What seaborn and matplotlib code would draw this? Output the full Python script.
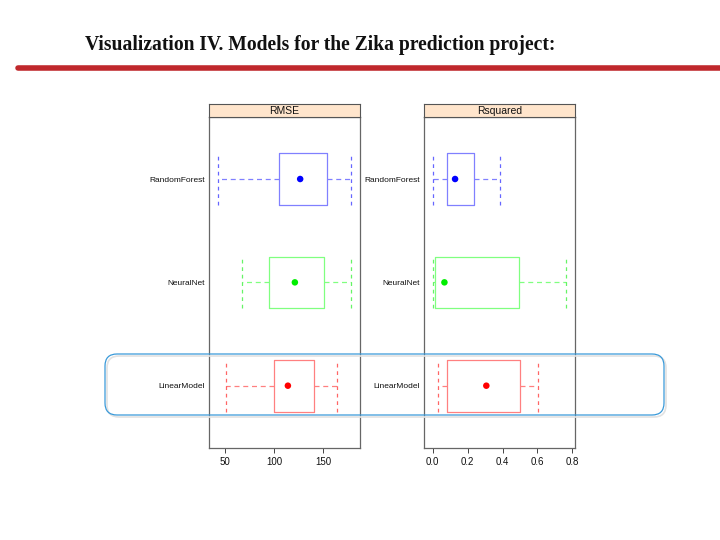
import matplotlib
matplotlib.use('Agg')
import matplotlib.pyplot as plt
import seaborn as sns
import pandas as pd
from matplotlib.patches import FancyBboxPatch
from matplotlib.transforms import IdentityTransform

# ─────────────────────────────────────────
# Data
# ─────────────────────────────────────────
models = ["LinearModel", "NeuralNet", "RandomForest"]
colors = ["#ff0000", "#00ee00", "#0000ff"]
light = ["#ff8080", "#80ff80", "#8080ff"]

rmse_low  = [51.0, 67.7, 43.2]
rmse_q1   = [100.3, 95.2, 105.1]
rmse_med  = [114.0, 121.1, 126.5]
rmse_q3   = [140.1, 151.0, 153.8]
rmse_high = [164.3, 178.3, 177.9]

rsq_low  = [0.032, 0.004, 0.004]
rsq_q1   = [0.084, 0.013, 0.084]
rsq_med  = [0.307, 0.067, 0.128]
rsq_q3   = [0.499, 0.496, 0.238]
rsq_high = [0.603, 0.765, 0.384]

rmse_ticks = [50, 100, 150]
rsq_ticks = [0.0, 0.2, 0.4, 0.6, 0.8]

sns.set_theme(style="white")
plt.rcParams['font.family'] = ['Liberation Sans', 'DejaVu Sans']

fig = plt.figure(figsize=(7.2, 5.4), dpi=100)

# title + red rule
fig.text(85 / 720, 1 - 45 / 540, "Visualization IV. Models for the Zika prediction project:",
         family=['Liberation Serif', 'DejaVu Serif'], fontweight='bold', fontsize=14.1,
         ha='left', va='center', color='#111111')
fig.add_artist(plt.Line2D([18 / 720, 1.0], [1 - 68 / 540] * 2, color='#c0282c',
                          linewidth=4, transform=fig.transFigure))


def panel(x0, name, low, q1, med, q3, high, xlim, ticks, fmt):
    bottom, top = (540 - 447.7) / 540, (540 - 117) / 540
    w = 151 / 720
    ax = fig.add_axes([x0, bottom, w, top - bottom])
    strip = fig.add_axes([x0, top, w, 13 / 540])
    strip.set_facecolor('#ffe5cc')
    strip.set_xticks([])
    strip.set_yticks([])
    strip.text(0.5, 0.45, name, ha='center', va='center', fontsize=7.5, color='#111111')
    for s in strip.spines.values():
        s.set_color('#555555')
        s.set_linewidth(0.8)

    for i, m in enumerate(models):
        stats = [dict(whislo=low[i], q1=q1[i], med=med[i], q3=q3[i], whishi=high[i], fliers=[])]
        ax.bxp(stats, positions=[i + 1], widths=0.5, capwidths=0.5,
               orientation='horizontal', showfliers=False, manage_ticks=False,
               boxprops=dict(color=light[i], linewidth=0.9),
               whiskerprops=dict(color=light[i], linestyle=(0, (4, 3)), linewidth=0.9),
               capprops=dict(color=colors[i], alpha=0.6, linestyle=(0, (3, 3)), linewidth=0.9),
               medianprops=dict(linewidth=0))

    df = pd.DataFrame({"model": models, "med": med, "pos": [1, 2, 3]})
    sns.scatterplot(data=df, x="med", y="pos", hue="model", palette=dict(zip(models, colors)),
                    s=22, edgecolor='none', legend=False, ax=ax, zorder=5)

    ax.set_xlim(*xlim)
    ax.set_ylim(0.4, 3.6)
    ax.set_yticks([1, 2, 3])
    ax.set_yticklabels(models)
    ax.set_xticks(ticks)
    ax.set_xticklabels([fmt.format(t) for t in ticks])
    ax.set_xlabel("")
    ax.set_ylabel("")
    ax.tick_params(axis='y', length=0, labelsize=6, pad=3, labelcolor='#111111')
    ax.tick_params(axis='x', length=3.5, width=0.7, labelsize=7, pad=3.5,
                   color='#444444', labelcolor='#111111', bottom=True, direction='out')
    for s in ax.spines.values():
        s.set_color('#666666')
        s.set_linewidth(0.9)
    return ax


panel(209 / 720, "RMSE", rmse_low, rmse_q1, rmse_med, rmse_q3, rmse_high,
      (33.7, 187.4), rmse_ticks, "{:g}")
panel(424 / 720, "Rsquared", rsq_low, rsq_q1, rsq_med, rsq_q3, rsq_high,
      (-0.050, 0.815), rsq_ticks, "{:.1f}")

# highlight around the LinearModel row (pixel coords)
shadow = FancyBboxPatch((107, 540 - 417), 559, 61, boxstyle="round,pad=0,rounding_size=12",
                        transform=IdentityTransform(), facecolor='none',
                        edgecolor='#e2e2e2', linewidth=1.2, zorder=9)
fig.add_artist(shadow)
hl = FancyBboxPatch((105, 540 - 415), 559, 61, boxstyle="round,pad=0,rounding_size=12",
                    transform=IdentityTransform(), facecolor='none',
                    edgecolor='#3a9ad9', linewidth=0.9, zorder=10)
fig.add_artist(hl)

fig.savefig("out.png", dpi=100, facecolor='white')
